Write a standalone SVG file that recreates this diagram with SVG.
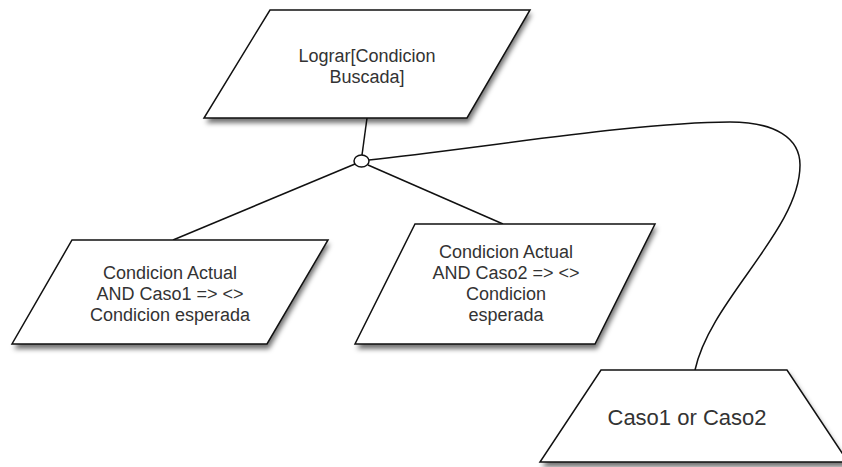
<svg xmlns="http://www.w3.org/2000/svg" width="842" height="467" viewBox="0 0 842 467">
  <defs>
    <style>
      .shape { fill: #ffffff; stroke: #111111; stroke-width: 1.5; stroke-linejoin: miter; }
      .shade { fill: #000000; fill-opacity: 0.55; }
      .label { font-family: "Liberation Sans", Arial, sans-serif; font-size: 18px; fill: #333333; text-anchor: middle; }
      .big { font-size: 22px; }
      .wire { fill: none; stroke: #111111; stroke-width: 1.5; }
    </style>
    <filter id="soft" x="-5%" y="-10%" width="115%" height="130%">
      <feGaussianBlur stdDeviation="2.5"/>
    </filter>
  </defs>
  <rect width="842" height="467" fill="#ffffff"/>

  <!-- connectors -->
  <g id="connectors">
    <line class="wire" x1="367" y1="118" x2="362" y2="155"/>
    <line class="wire" x1="355" y1="164" x2="173" y2="240"/>
    <line class="wire" x1="368" y1="165" x2="503" y2="224"/>
    <path class="wire" d="M369,160 C480,148 640,122 730,122 C775,122 800,138 800,165 C800,230 710,300 695,370"/>
    <ellipse cx="361.5" cy="161" rx="7.5" ry="6" fill="#ffffff" stroke="#111111" stroke-width="1.5"/>
  </g>

  <!-- goal -->
  <g id="goal">
    <polygon class="shade" filter="url(#soft)" points="272,14 532,14 469,123 206,123"/>
    <polygon class="shape" points="270,10 530,10 467,118 204,118"/>
    <text class="label" x="367" y="62">Lograr[Condicion</text>
    <text class="label" x="367" y="83">Buscada]</text>
  </g>

  <!-- case 1 -->
  <g id="case1">
    <polygon class="shade" filter="url(#soft)" points="74,244 330,244 269,349 14,349"/>
    <polygon class="shape" points="72,240 328,240 267,344 12,344"/>
    <text class="label" x="170" y="279">Condicion Actual</text>
    <text class="label" x="170" y="300">AND Caso1 =&gt; &lt;&gt;</text>
    <text class="label" x="170" y="321">Condicion esperada</text>
  </g>

  <!-- case 2 -->
  <g id="case2">
    <polygon class="shade" filter="url(#soft)" points="417,228 657,228 597,349 357,349"/>
    <polygon class="shape" points="415,224 655,224 595,344 355,344"/>
    <text class="label" x="506" y="258">Condicion Actual</text>
    <text class="label" x="506" y="279">AND Caso2 =&gt; &lt;&gt;</text>
    <text class="label" x="506" y="300">Condicion</text>
    <text class="label" x="506" y="321">esperada</text>
  </g>

  <!-- domain -->
  <g id="domain">
    <polygon class="shade" filter="url(#soft)" points="603,374 789,374 850,467 542,467"/>
    <polygon class="shape" points="601,370 787,370 848,462 540,462"/>
    <text class="label big" x="687" y="425">Caso1 or Caso2</text>
  </g>
</svg>
